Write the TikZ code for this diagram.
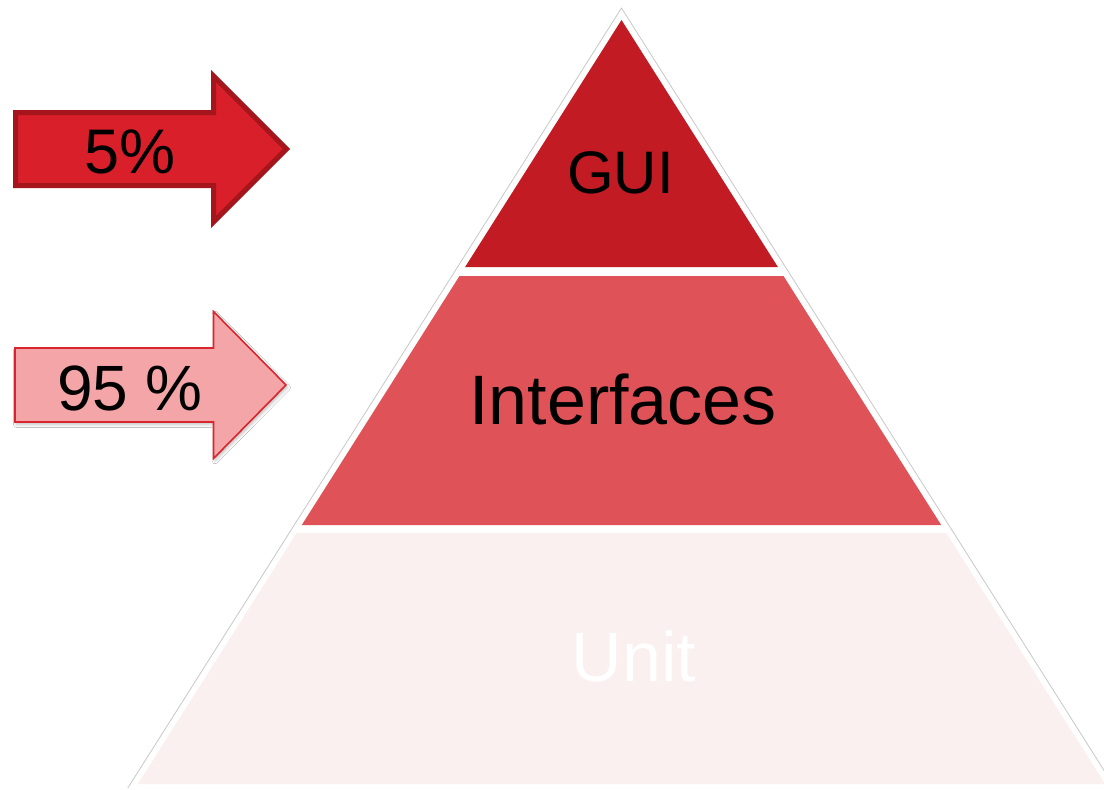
\documentclass[tikz,border=0pt]{standalone}
\usepackage{fontspec}
\setmainfont{Liberation Sans}
\usetikzlibrary{shadows,shadows.blur}
\definecolor{guired}{HTML}{C21B23}
\definecolor{intred}{HTML}{DF5257}
\definecolor{unitpink}{HTML}{F9F0EF}
\definecolor{arrowonefill}{HTML}{D91F2A}
\definecolor{arrowoneline}{HTML}{A5161C}
\definecolor{arrowtwofill}{HTML}{F4A5A8}
\definecolor{arrowtwoline}{HTML}{D9262E}
\definecolor{outlinegray}{HTML}{C8C8C8}
\tikzset{
  band/.style={draw=none},
  lbl/.style={inner sep=0pt, anchor=base},
}
\begin{document}
\begin{tikzpicture}[x=1pt,y=-1pt]
\useasboundingbox (0,0) rectangle (1104,790);
\clip (0,0) rectangle (1104,790);
\fill[white] (0,0) rectangle (1104,790);
% outer outline of the pyramid
\draw[outlinegray, line width=0.8pt, line join=round, fill=white]
  (1115.2,788) -- (621.5,8) -- (127.8,788);
% bands
\fill[guired] (621.5,20) -- (777.9,267) -- (465.1,267) -- cycle;
\fill[intred] (459.5,276) -- (783.5,276) -- (941.2,525) -- (301.8,525) -- cycle;
\fill[unitpink] (296.8,533) -- (946.2,533) -- (1105.1,784) -- (137.9,784) -- cycle;
% labels
\node[lbl] (gui) at (620.5,193) {\fontsize{60}{60}\selectfont GUI};
\node[lbl] (int) at (623,424) {\fontsize{70}{70}\selectfont Interfaces};
\node[lbl, text=white] (unit) at (634,681) {\fontsize{70}{70}\selectfont Unit};
% arrows
\draw[arrowoneline, fill=arrowonefill, line width=5pt, line join=miter]
  (15.5,112.5) -- (213.5,112.5) -- (213.5,76) -- (286.5,149) -- (213.5,222) -- (213.5,185.5) -- (15.5,185.5) -- cycle;
\node[lbl] (five) at (130,173) {\fontsize{63}{63}\selectfont 5\%};
\draw[arrowtwoline, fill=arrowtwofill, line width=1.6pt, line join=miter,
      blur shadow={shadow xshift=1.5pt, shadow yshift=-2.5pt, shadow blur radius=3pt, shadow opacity=25}]
  (15,348) -- (213.5,348) -- (213.5,311.5) -- (286,385) -- (213.5,458.5) -- (213.5,422) -- (15,422) -- cycle;
\node[lbl] (ninetyfive) at (130,410) {\fontsize{64}{64}\selectfont 95 \%};
\end{tikzpicture}
\end{document}
